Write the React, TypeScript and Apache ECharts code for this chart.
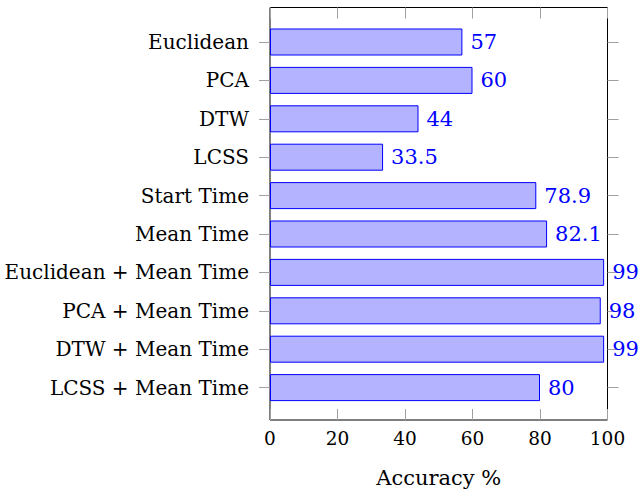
import React, { useEffect, useRef } from "react";
import * as echarts from "echarts";

const categories = [
  "Euclidean",
  "PCA",
  "DTW",
  "LCSS",
  "Start Time",
  "Mean Time",
  "Euclidean + Mean Time",
  "PCA + Mean Time",
  "DTW + Mean Time",
  "LCSS + Mean Time",
];
const accuracy = [57, 60, 44, 33.5, 78.9, 82.1, 99, 98, 99, 80];
const xTicks = { min: 0, max: 100, interval: 20 };
const axisTitle = "Accuracy %";

const FONT = "DejaVu Serif";

export default function App() {
  const ref = useRef<HTMLDivElement>(null);
  useEffect(() => {
    if (!ref.current) return;
    const chart = echarts.init(ref.current, null, { renderer: "svg" });
    const L = 270, W = 337.5;
    const tickStyle = { color: "#a0a0a0", width: 1 };
    chart.setOption({
      animation: false,
      grid: [
        { left: L, top: 7.5, width: W, height: 413.5, show: true, borderColor: "#000", borderWidth: 1, backgroundColor: "transparent", containLabel: false },
        { left: L, top: 22.8, width: W, height: 384, containLabel: false },
      ],
      xAxis: [
        {
          gridIndex: 0, type: "value", position: "bottom", min: xTicks.min, max: xTicks.max, interval: xTicks.interval,
          axisLine: { show: false }, splitLine: { show: false },
          axisTick: { show: true, inside: true, length: 11, lineStyle: tickStyle },
          axisLabel: { color: "#000", fontFamily: FONT, fontSize: 18.5, margin: 9 },
          name: axisTitle, nameLocation: "middle", nameGap: 47,
          nameTextStyle: { color: "#000", fontFamily: FONT, fontSize: 21 },
        },
        {
          gridIndex: 0, type: "value", position: "top", min: xTicks.min, max: xTicks.max, interval: xTicks.interval,
          axisLine: { show: false }, splitLine: { show: false },
          axisTick: { show: true, inside: true, length: 11, lineStyle: tickStyle },
          axisLabel: { show: false },
        },
        {
          gridIndex: 1, type: "value", min: xTicks.min, max: xTicks.max, show: false,
        },
      ],
      yAxis: [
        { gridIndex: 0, type: "value", show: false },
        {
          gridIndex: 1, type: "category", data: categories, inverse: true, position: "left",
          axisLine: { show: false },
          axisTick: { show: true, alignWithLabel: true, length: 11, lineStyle: tickStyle },
          axisLabel: { color: "#000", fontFamily: FONT, fontSize: 20, margin: 21 },
        },
        {
          gridIndex: 1, type: "category", data: categories, inverse: true, position: "right",
          axisLine: { show: false },
          axisTick: { show: true, alignWithLabel: true, length: 11, lineStyle: tickStyle },
          axisLabel: { show: false },
        },
      ],
      series: [
        {
          type: "bar",
          xAxisIndex: 2,
          yAxisIndex: 1,
          data: accuracy,
          barWidth: 27,
          itemStyle: { color: "rgb(179,179,255)", borderColor: "#0000ff", borderWidth: 1 },
          label: {
            show: true, position: "right", distance: 8, color: "#0000ff",
            fontFamily: FONT, fontSize: 21,
          },
          z: 3,
        },
      ],
    });
    return () => chart.dispose();
  }, []);
  return <div ref={ref} style={{ width: 641, height: 493, position: "absolute", left: 0, top: 0 }} />;
}
